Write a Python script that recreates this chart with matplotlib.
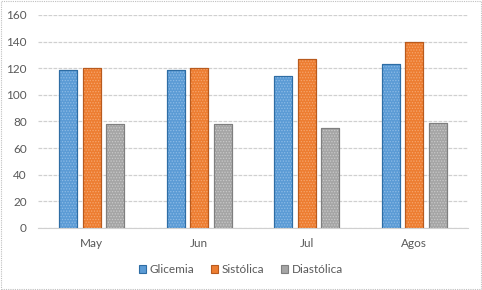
import matplotlib
matplotlib.use("Agg")
import matplotlib.pyplot as plt
import numpy as np
from matplotlib.patches import Rectangle

categories = ["May", "Jun", "Jul", "Agos"]
glicemia = [119, 119, 114, 123]
sistolica = [120, 120, 127, 140]
diastolica = [78, 78, 75, 79]
series_names = ["Glicemia", "Sistólica", "Diastólica"]
yticks = [0, 20, 40, 60, 80, 100, 120, 140, 160]

plt.rcParams['font.family'] = ['Lato', 'DejaVu Sans']
plt.rcParams['hatch.linewidth'] = 0.6

fig = plt.figure(figsize=(4.82, 2.90), dpi=100)
ax = fig.add_axes([0.0788, 0.2138, 0.892, 0.7345])

faces = ["#5B9BD5", "#ED7D31", "#A5A5A5"]
edges = ["#2E6DA4", "#B85A1E", "#7F7F7F"]
hatchc = ["#8DBBE6", "#F6A66E", "#C9C9C9"]
data = [glicemia, sistolica, diastolica]

x = np.arange(len(categories))
w = 0.167
step = 0.219
handles = []
for i, (vals, fc, ec, hc) in enumerate(zip(data, faces, edges, hatchc)):
    pos = x + (i - 1) * step
    b = ax.bar(pos, vals, width=w, color=fc, edgecolor=ec, linewidth=0.8, zorder=3, label=series_names[i])
    ax.bar(pos, vals, width=w, facecolor="none", edgecolor=hc, linewidth=0, hatch="......", zorder=4)
    ax.bar(pos, vals, width=w, facecolor="none", edgecolor=ec, linewidth=0.8, zorder=5)
    handles.append(b)

ax.set_xlim(-0.5, len(categories) - 0.5)
ax.set_ylim(0, 160)
ax.set_yticks(yticks)
ax.set_xticks(x)
ax.set_xticklabels(categories)
ax.grid(axis='y', color="#D0D0D0", linewidth=0.9, linestyle=(0, (3, 1)), zorder=0)
ax.set_axisbelow(True)
for s in ["top", "right", "left"]:
    ax.spines[s].set_visible(False)
ax.spines["bottom"].set_color("#D0D0D0")
ax.tick_params(axis='both', length=0, labelsize=8.5, colors="#595959")
ax.tick_params(axis='y', pad=8)
ax.tick_params(axis='x', pad=7)

leg = fig.legend(handles=handles, labels=series_names, loc="center", bbox_to_anchor=(0.5, 0.07),
                 ncol=3, frameon=False, fontsize=8.5, handlelength=0.6, handleheight=0.6,
                 handletextpad=0.3, columnspacing=1.4)
for t in leg.get_texts():
    t.set_color("#595959")

fig.patches.append(Rectangle((0.002, 0.003), 0.995, 0.993, transform=fig.transFigure, fill=False,
                             edgecolor="#BFBFBF", linewidth=0.8, linestyle=(0, (1, 1))))

fig.savefig("out.png", dpi=100)
